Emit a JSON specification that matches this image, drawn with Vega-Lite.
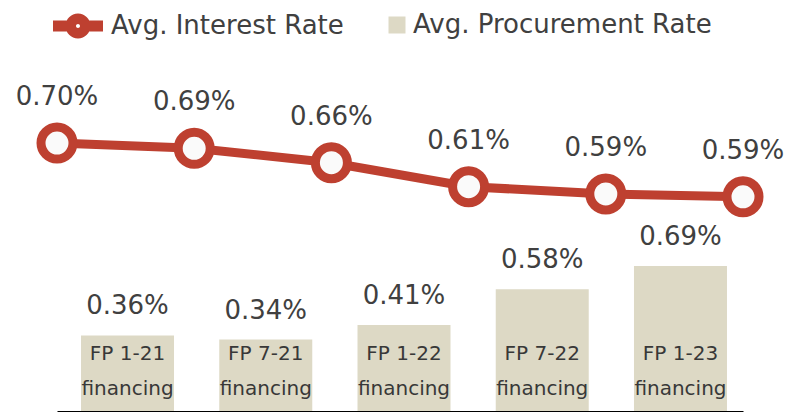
{
  "$schema": "https://vega.github.io/schema/vega-lite/v6.json",
  "width": 686,
  "height": 361,
  "autosize": {"type": "none"},
  "padding": {"left": 57, "top": 50, "right": 47, "bottom": 1},
  "background": "#ffffff",
  "config": {
    "view": {"stroke": null},
    "text": {"font": "DejaVu Sans", "color": "#404040"},
    "legend": {"labelFont": "DejaVu Sans", "labelFontSize": 26, "labelColor": "#404040", "labelLimit": 0, "title": null}
  },
  "datasets": {
    "line": [
      {"pos": 0, "rate": 0.0070, "series": "Avg. Interest Rate"},
      {"pos": 1, "rate": 0.00689, "series": "Avg. Interest Rate"},
      {"pos": 2, "rate": 0.00659, "series": "Avg. Interest Rate"},
      {"pos": 3, "rate": 0.00609, "series": "Avg. Interest Rate"},
      {"pos": 4, "rate": 0.00594, "series": "Avg. Interest Rate"},
      {"pos": 5, "rate": 0.00588, "series": "Avg. Interest Rate"}
    ],
    "bars": [
      {"pos": 0.5, "rate": 0.0036, "label": "FP 1-21\nfinancing", "series": "Avg. Procurement Rate"},
      {"pos": 1.5, "rate": 0.0034, "label": "FP 7-21\nfinancing", "series": "Avg. Procurement Rate"},
      {"pos": 2.5, "rate": 0.0041, "label": "FP 1-22\nfinancing", "series": "Avg. Procurement Rate"},
      {"pos": 3.5, "rate": 0.0058, "label": "FP 7-22\nfinancing", "series": "Avg. Procurement Rate"},
      {"pos": 4.5, "rate": 0.0069, "label": "FP 1-23\nfinancing", "series": "Avg. Procurement Rate"}
    ]
  },
  "layer": [
    {
      "data": {"name": "bars"},
      "encoding": {
        "x": {"field": "pos", "type": "quantitative", "scale": {"domain": [0, 5], "nice": false, "zero": false, "padding": 0, "range": [1.4, 692.6]},
              "axis": null},
        "y": {"field": "rate", "type": "quantitative", "scale": {"domain": [0, 0.01719], "nice": false}, "axis": null}
      },
      "layer": [
        {
          "mark": {"type": "bar", "width": 93},
          "encoding": {
            "fill": {"field": "series", "type": "nominal", "scale": {"range": ["#DDD9C5"]},
                     "legend": {"orient": "none", "legendX": 327, "legendY": -38, "symbolType": "square", "symbolSize": 289, "symbolStrokeWidth": 0, "labelOffset": 3}}
          }
        },
        {
          "mark": {"type": "text", "fontSize": 26, "baseline": "alphabetic", "dy": -21},
          "encoding": {"text": {"field": "rate", "type": "quantitative", "format": ".2%"}}
        },
        {
          "mark": {"type": "text", "fontSize": 20, "baseline": "alphabetic", "dy": -51, "lineBreak": "\n", "lineHeight": 35, "color": "#383838"},
          "encoding": {"text": {"field": "label"}, "y": {"datum": 0, "type": "quantitative"}}
        }
      ]
    },
    {
      "data": {"name": "line"},
      "encoding": {
        "x": {"field": "pos", "type": "quantitative", "scale": {"domain": [0, 5], "nice": false, "zero": false, "padding": 0},
              "axis": {"labels": false, "ticks": false, "grid": false, "title": null, "domainColor": "#000000", "domainWidth": 1.2}},
        "y": {"field": "rate", "type": "quantitative", "scale": {"domain": [0.001417, 0.008938], "nice": false, "zero": false}, "axis": null}
      },
      "layer": [
        {
          "mark": {"type": "line", "strokeWidth": 9},
          "encoding": {
            "color": {"field": "series", "type": "nominal", "scale": {"range": ["#BE4030"]},
                      "legend": {"orient": "none", "legendX": -4, "legendY": -49,
                                 "symbolType": "M-1,-0.22H1V0.22H-1ZM-0.5,0A0.5,0.5 0 1,1 0.5,0A0.5,0.5 0 1,1 -0.5,0ZM-0.08,0A0.08,0.08 0 1,0 0.08,0A0.08,0.08 0 1,0 -0.08,0ZM-0.08,0A0.08,0.08 0 1,0 0.08,0A0.08,0.08 0 1,0 -0.08,0Z",
                                 "symbolSize": 2500, "symbolStrokeWidth": 0, "symbolFillColor": "#BE4030", "labelOffset": 8,
                                 "encode": {"symbols": {"update": {"fill": {"value": "#BE4030"}, "stroke": {"value": "transparent"}, "strokeWidth": {"value": 0}, "opacity": {"value": 1}}}}}}
          }
        },
        {
          "mark": {"type": "point", "shape": "circle", "filled": true, "fill": "#FAFAFA", "stroke": "#BE4030", "strokeWidth": 9, "size": 1024, "opacity": 1}
        },
        {
          "mark": {"type": "text", "fontSize": 26, "baseline": "alphabetic", "dy": -38},
          "encoding": {"text": {"field": "rate", "type": "quantitative", "format": ".2%"}}
        }
      ]
    }
  ],
  "resolve": {"scale": {"y": "independent", "x": "independent"}}
}
